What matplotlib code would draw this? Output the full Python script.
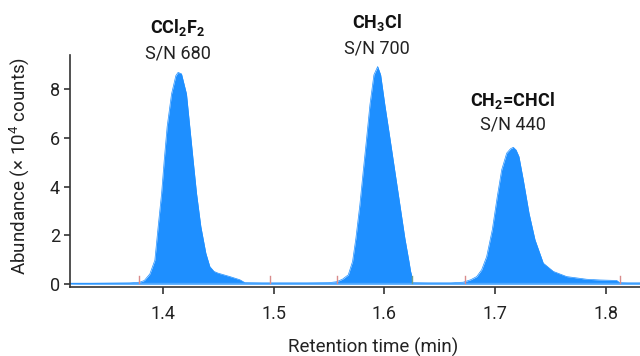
import matplotlib
matplotlib.use("Agg")
import matplotlib.pyplot as plt

plt.rcParams['font.family'] = ['Roboto', 'DejaVu Sans']
plt.rcParams['mathtext.fontset'] = 'custom'
plt.rcParams['mathtext.rm'] = 'Roboto'
plt.rcParams['mathtext.bf'] = 'Roboto:bold'
plt.rcParams['mathtext.it'] = 'Roboto'

# ---- data ----
time = [1.3156, 1.330, 1.350, 1.370, 1.3789, 1.383, 1.388, 1.3925, 1.3955, 1.3986,
        1.401, 1.4036, 1.4076, 1.4115, 1.4135, 1.4166, 1.4211, 1.4241, 1.4271, 1.4302,
        1.4341, 1.4386, 1.4422, 1.4460, 1.4497, 1.4603, 1.4693, 1.4739, 1.490, 1.510,
        1.530, 1.550, 1.5568, 1.5620, 1.5673, 1.5712, 1.5742, 1.5778, 1.5808, 1.5839,
        1.5869, 1.5905, 1.5939, 1.5966, 1.6004, 1.6050, 1.6095, 1.6140, 1.6185, 1.6222,
        1.6237, 1.6244, 1.6248, 1.640, 1.660, 1.6712, 1.6780, 1.6834, 1.6879, 1.6924,
        1.6975, 1.7020, 1.7060, 1.7105, 1.7140, 1.7165, 1.7190, 1.7216, 1.7255, 1.7307,
        1.7361, 1.7436, 1.7527, 1.7647, 1.7828, 1.7950, 1.8100, 1.8125, 1.820, 1.831]
abundance = [0.02, 0.03, 0.04, 0.05, 0.08, 0.15, 0.42, 0.98, 2.36, 3.72,
             5.09, 6.45, 7.80, 8.55, 8.68, 8.62, 7.80, 6.45, 5.09, 3.72,
             2.36, 1.27, 0.72, 0.52, 0.45, 0.31, 0.18, 0.06, 0.05, 0.05,
             0.05, 0.06, 0.10, 0.20, 0.38, 0.93, 1.88, 3.25, 4.61, 5.98,
             7.35, 8.58, 8.92, 8.58, 7.35, 5.98, 4.61, 3.25, 1.88, 0.93,
             0.52, 0.40, 0.06, 0.05, 0.05, 0.08, 0.18, 0.31, 0.59, 1.13,
             2.23, 3.59, 4.69, 5.37, 5.55, 5.61, 5.50, 5.23, 4.28, 2.91,
             1.82, 0.86, 0.52, 0.31, 0.20, 0.17, 0.15, 0.06, 0.05, 0.05]

marker_times = [1.378, 1.497, 1.557, 1.673, 1.813]
end_marker_time = [1.6246]

compounds = [r"CCl$\mathbf{_2}$F$\mathbf{_2}$", r"CH$\mathbf{_3}$Cl", r"CH$\mathbf{_2}$=CHCl"]
sn_labels = ["S/N 680", "S/N 700", "S/N 440"]
peak_times = [1.4135, 1.5939, 1.7165]

xticks = [1.4, 1.5, 1.6, 1.7, 1.8]
yticks = [0, 2, 4, 6, 8]

# ---- figure ----
fig = plt.figure(figsize=(6.4, 3.56), dpi=100)
ax = fig.add_axes([0.109, 0.195, 0.891, 0.651])

ax.fill_between(time, -0.0, abundance, color="#1E8FFF", linewidth=0)
ax.plot(time, abundance, color="#1E8FFF", linewidth=0.5)
ax.axhline(0.03, color="#4DA8FF", linewidth=1.0, zorder=1)

for t in marker_times:
    ax.plot([t, t], [0.03, 0.32], color="#D98C8C", linewidth=1.0, zorder=3)
for t in end_marker_time:
    ax.plot([t, t], [0.03, 0.32], color="#6FA08A", linewidth=1.0, zorder=3)

ax.set_xlim(1.3156, 1.831)
ax.set_ylim(-0.1, 9.4)
ax.set_xticks(xticks)
ax.set_xticklabels([f"{v:.1f}" for v in xticks])
ax.set_yticks(yticks)

for s in ["top", "right"]:
    ax.spines[s].set_visible(False)
for s in ["left", "bottom"]:
    ax.spines[s].set_color("#333333")
    ax.spines[s].set_linewidth(1.2)

ax.tick_params(axis="x", length=5, width=1.2, color="#333333", labelsize=13,
               labelcolor="#222222", pad=8)
ax.tick_params(axis="y", length=4, width=1.2, color="#333333", labelsize=13,
               labelcolor="#222222", pad=3)

ax.set_xlabel("Retention time (min)", fontsize=13.5, color="#222222")
ax.xaxis.set_label_coords(0.532, -0.222)
ax.set_ylabel(r"Abundance (× 10$^4$ counts)", fontsize=13.5, color="#222222")
ax.yaxis.set_label_coords(-0.068, 0.52)

name_y = [10.5, 10.71, 7.51]
sn_y = [9.44, 9.65, 6.53]
for t, c, s, ny, sy in zip(peak_times, compounds, sn_labels, name_y, sn_y):
    ax.text(t - 0.0005, ny, c, ha="center", va="center", fontsize=13, color="#111111",
            fontweight="bold", clip_on=False)
    ax.text(t - 0.0005, sy, s, ha="center", va="center", fontsize=13, color="#222222",
            clip_on=False)

fig.savefig("out.png", dpi=100)
